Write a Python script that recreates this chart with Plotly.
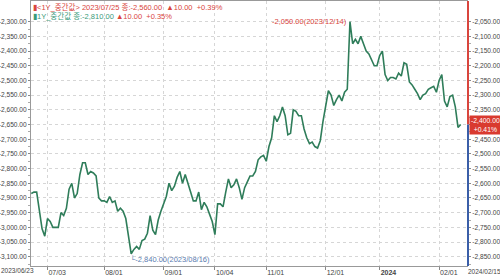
import plotly.graph_objects as go
import pandas as pd

# ---- data ----
HOLIDAYS = ["2023-08-15", "2023-09-28", "2023-09-29", "2023-10-02", "2023-10-03",
            "2023-10-09", "2023-12-25", "2024-01-01", "2024-02-09", "2024-02-12"]
dates = pd.bdate_range("2023-06-23", "2024-02-15", freq="C",
                       holidays=HOLIDAYS).strftime("%Y-%m-%d").tolist()

values = [
    -2635, -2630, -2630, -2685, -2755, -2780, -2720, -2730, -2750, -2750,
    -2750, -2700, -2710, -2685, -2620, -2600, -2650, -2635, -2570, -2530,
    -2530, -2570, -2560, -2565, -2575, -2650, -2660, -2660, -2665, -2645,
    -2665, -2660, -2695, -2685, -2695, -2720, -2775, -2840, -2825, -2815,
    -2825, -2795, -2790, -2770, -2710, -2760, -2775, -2725, -2695, -2670,
    -2645, -2600, -2625, -2610, -2580, -2560, -2600, -2570, -2605, -2630,
    -2660, -2660, -2630, -2690, -2665, -2680, -2705, -2730, -2775, -2670,
    -2670, -2680, -2630, -2585, -2615, -2605, -2585, -2615, -2655, -2615,
    -2595, -2575, -2575, -2560, -2520, -2510, -2505, -2525, -2475, -2445,
    -2370, -2390, -2370, -2340, -2370, -2435, -2430, -2350, -2355, -2370,
    -2370, -2415, -2445, -2465, -2460, -2475, -2480, -2455, -2390, -2335,
    -2285, -2300, -2335, -2315, -2300, -2320, -2290, -2280, -2050, -2125,
    -2110, -2125, -2100, -2125, -2150, -2160, -2180, -2200, -2200, -2165,
    -2150, -2230, -2250, -2240, -2240, -2245, -2225, -2235, -2190, -2195,
    -2255, -2265, -2280, -2295, -2315, -2300, -2295, -2280, -2275, -2270,
    -2290, -2250, -2230, -2320, -2340, -2305, -2300, -2340, -2410, -2400,
]

x_tick_dates = ["2023-07-03", "2023-08-01", "2023-09-01", "2023-10-04",
                "2023-11-01", "2023-12-01", "2024-01-02", "2024-02-01"]
x_tick_text = ["07/03", "08/01", "09/01", "10/04", "11/01", "12/01", "<b>2024</b>", "02/01"]

left_ticks = list(range(-2300, -3101, -50))
right_ticks = list(range(-2050, -2851, -50))

legend_line1 = "▮&lt;1Y_중간값&gt; 2023/07/25 종:-2,560.00&nbsp;&nbsp;▲10.00&nbsp;&nbsp;+0.39%"
legend_line2a = "▮1Y_중간값 종:-2,810.00"
legend_line2b = "▲10.00&nbsp;&nbsp;+0.35%"
last_change = "+0.41%"

# ---- style ----
FONT = "Liberation Sans, Noto Sans CJK KR, sans-serif"
RED = "#d9453d"
GREEN = "#2f7d5a"
BLUE_AX = "#3a5ea8"
RIGHT_RANGE = [-2881.6, -1979.5]
LEFT_RANGE = [-3131.6, -2229.5]

fmt = lambda v: f"{v:,.2f}"
last_val = values[-1]

fig = go.Figure()
fig.add_trace(go.Scatter(x=dates, y=values, yaxis="y2", mode="lines",
                         line=dict(color=GREEN, width=1.6), hoverinfo="skip"))
fig.add_trace(go.Scatter(x=[dates[0]], y=[None], yaxis="y", mode="lines",
                         hoverinfo="skip", showlegend=False))

yfont = dict(family=FONT, size=6.6, color="#444")
xfont = dict(family=FONT, size=7, color="#444")
efont = dict(family=FONT, size=6.5, color="#444")
tfont = 7.5

fig.update_layout(
    width=500, height=276,
    margin=dict(l=31, r=32, t=1, b=10),
    paper_bgcolor="white", plot_bgcolor="white",
    showlegend=False,
    font=dict(family=FONT, size=tfont, color="#444"),
    xaxis=dict(
        type="category", range=[-0.1, 161.7],
        tickmode="array", tickvals=x_tick_dates, ticktext=x_tick_text,
        ticklabelposition="outside right",
        ticks="outside", ticklen=3, tickcolor="#888",
        showgrid=True, gridcolor="#d6d6d6", griddash="dot", gridwidth=1,
        showline=True, linecolor="#999", linewidth=1, mirror=True,
        tickfont=xfont, automargin=False, zeroline=False,
    ),
    yaxis=dict(
        side="left", range=LEFT_RANGE,
        tickmode="array", tickvals=left_ticks, ticktext=[fmt(v) for v in left_ticks],
        ticks="outside", ticklen=2, tickcolor="#888",
        minor=dict(tickvals=[v - 25 for v in left_ticks], ticks="outside", ticklen=2, tickcolor="#aaa"),
        showgrid=False, showline=True, linecolor="#999", linewidth=1,
        tickfont=yfont, automargin=False, zeroline=False,
    ),
    yaxis2=dict(
        side="right", overlaying="y", range=RIGHT_RANGE,
        tickmode="array", tickvals=right_ticks,
        ticktext=["" if v == last_val else fmt(v) for v in right_ticks],
        ticks="outside", ticklen=2, tickcolor="#888",
        minor=dict(tickvals=[v - 25 for v in right_ticks], ticks="outside", ticklen=2, tickcolor="#aaa"),
        showgrid=True, gridcolor="#d6d6d6", griddash="dot", gridwidth=1,
        showline=False,
        tickfont=yfont, automargin=False, zeroline=False,
    ),
)

# right axis coloured by current value
fig.add_shape(type="line", xref="paper", x0=1, x1=1, yref="y2",
              y0=last_val, y1=RIGHT_RANGE[1], line=dict(color=RED, width=2), layer="above")
fig.add_shape(type="line", xref="paper", x0=1, x1=1, yref="y2",
              y0=RIGHT_RANGE[0], y1=last_val, line=dict(color=BLUE_AX, width=2), layer="above")

# legend texts
fig.add_annotation(xref="paper", yref="paper", x=0, y=1, xanchor="left", yanchor="top",
                   xshift=0, yshift=1, showarrow=False,
                   text=f'<span style="color:{RED}">{legend_line1}</span>',
                   font=dict(family=FONT, size=tfont))
fig.add_annotation(xref="paper", yref="paper", x=0, y=1, xanchor="left", yanchor="top",
                   xshift=0, yshift=-8, showarrow=False,
                   text=f'<span style="color:#3a9a7a">{legend_line2a}</span> '
                        f'<span style="color:{RED}">{legend_line2b}</span>',
                   font=dict(family=FONT, size=tfont))

# max / min annotations
imax = values.index(max(values))
imin = values.index(min(values))
fig.add_annotation(x=dates[imax], y=values[imax], yref="y2",
                   text=f"{fmt(values[imax])}({dates[imax].replace('-', '/')})",
                   showarrow=True, ax=-40, ay=0, arrowhead=2, arrowsize=0.7,
                   arrowwidth=1, arrowcolor=RED, standoff=1,
                   font=dict(family=FONT, size=tfont, color=RED))
fig.add_annotation(x=dates[imin], y=values[imin], yref="y2",
                   text=f"└{fmt(values[imin])}({dates[imin].replace('-', '/')})",
                   showarrow=False, xanchor="left", yanchor="top", xshift=-3, yshift=1,
                   font=dict(family=FONT, size=tfont, color="#5a7bb0"))

# current value badge
fig.add_annotation(xref="paper", x=1, y=last_val, yref="y2", xanchor="left", yanchor="middle",
                   xshift=1, showarrow=False, align="center",
                   text=f"{fmt(last_val)}<br>{last_change}",
                   bgcolor="#d93a2f", borderpad=1,
                   font=dict(family=FONT, size=6.8, color="white"))

# edge date labels
fig.add_annotation(xref="paper", x=0, yref="paper", y=0, xanchor="left", yanchor="top",
                   xshift=-31, yshift=0, showarrow=False, borderpad=0,
                   text=dates[0].replace("-", "/"), font=efont)
fig.add_annotation(xref="paper", x=1, yref="paper", y=0, xanchor="left", yanchor="top",
                   xshift=-2, yshift=0, showarrow=False,
                   text=dates[-1].replace("-", "/"), font=efont)

fig.write_html("out.html")
